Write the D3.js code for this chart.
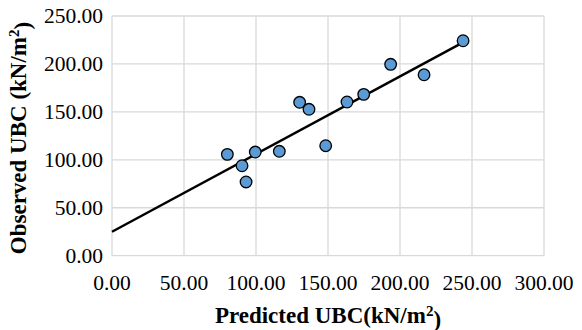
<!doctype html>
<html lang="en">
<head>
  <meta charset="utf-8">
  <script src="https://d3js.org/d3.v7.min.js"></script>
  <style>
    body { margin: 0; background: #fff; }
    text { font-family: "Liberation Serif", "Times New Roman", serif; fill: #000; }
  </style>
</head>
<body>
<svg id="chart" width="582" height="330"></svg>
<script>
  // values
  var predicted = [80.1, 90.3, 93.1, 99.5, 116.2, 130.3, 136.8, 148.4, 163.2, 174.8, 193.5, 216.7, 243.8];
  var observed  = [105.7, 93.8, 76.9, 108.1, 108.9, 160.0, 152.7, 114.7, 160.3, 168.3, 199.6, 188.7, 224.2];
  var trendX = [0, 243.8];
  var trendY = [25.0, 222.5];
  var xTicks = [0, 50, 100, 150, 200, 250, 300];
  var yTicks = [0, 50, 100, 150, 200, 250];

  var svg = d3.select("#chart");
  var plotL = 112, plotR = 544, plotT = 16, plotB = 255.7;

  var x = d3.scaleLinear().domain([0, 300]).range([plotL, plotR]);
  var y = d3.scaleLinear().domain([0, 250]).range([plotB, plotT]);

  // grid
  svg.append("g").selectAll("line").data(xTicks).enter().append("line")
      .attr("x1", function(d) { return x(d); }).attr("x2", function(d) { return x(d); })
      .attr("y1", plotT).attr("y2", plotB)
      .attr("stroke", "#d9d9d9").attr("stroke-width", 1.3);
  svg.append("g").selectAll("line").data(yTicks).enter().append("line")
      .attr("y1", function(d) { return y(d); }).attr("y2", function(d) { return y(d); })
      .attr("x1", plotL).attr("x2", plotR)
      .attr("stroke", "#d9d9d9").attr("stroke-width", 1.3);

  // tick labels
  svg.append("g").selectAll("text").data(xTicks).enter().append("text")
      .attr("x", function(d) { return x(d); })
      .attr("y", 290)
      .attr("text-anchor", "middle")
      .style("font-size", "21.5px")
      .text(function(d) { return d3.format(".2f")(d); });
  svg.append("g").selectAll("text").data(yTicks).enter().append("text")
      .attr("x", 103)
      .attr("y", function(d) { return y(d); })
      .attr("dy", "0.33em")
      .attr("text-anchor", "end")
      .style("font-size", "21.5px")
      .text(function(d) { return d3.format(".2f")(d); });

  // trend line
  svg.append("line")
      .attr("x1", x(trendX[0])).attr("y1", y(trendY[0]))
      .attr("x2", x(trendX[1])).attr("y2", y(trendY[1]))
      .attr("stroke", "#000").attr("stroke-width", 2.5);

  // points
  svg.append("g").selectAll("circle").data(predicted).enter().append("circle")
      .attr("cx", function(d) { return x(d); })
      .attr("cy", function(d, i) { return y(observed[i]); })
      .attr("r", 5.8)
      .attr("fill", "#5b9bd5")
      .attr("stroke", "#000")
      .attr("stroke-width", 1.3);

  // axis titles
  var xt = svg.append("text")
      .attr("x", 328)
      .attr("y", 323)
      .attr("text-anchor", "middle")
      .style("font-size", "23px").style("font-weight", "bold");
  xt.append("tspan").text("Predicted UBC(kN/m");
  xt.append("tspan").attr("dy", "-0.45em").style("font-size", "15px").text("2");
  xt.append("tspan").attr("dy", "0.45em").text(")");

  var yt = svg.append("text")
      .attr("transform", "translate(26,138) rotate(-90)")
      .attr("text-anchor", "middle")
      .style("font-size", "23px").style("font-weight", "bold");
  yt.append("tspan").text("Observed UBC (kN/m");
  yt.append("tspan").attr("dy", "-0.45em").style("font-size", "15px").text("2");
  yt.append("tspan").attr("dy", "0.45em").text(")");
</script>
</body>
</html>
